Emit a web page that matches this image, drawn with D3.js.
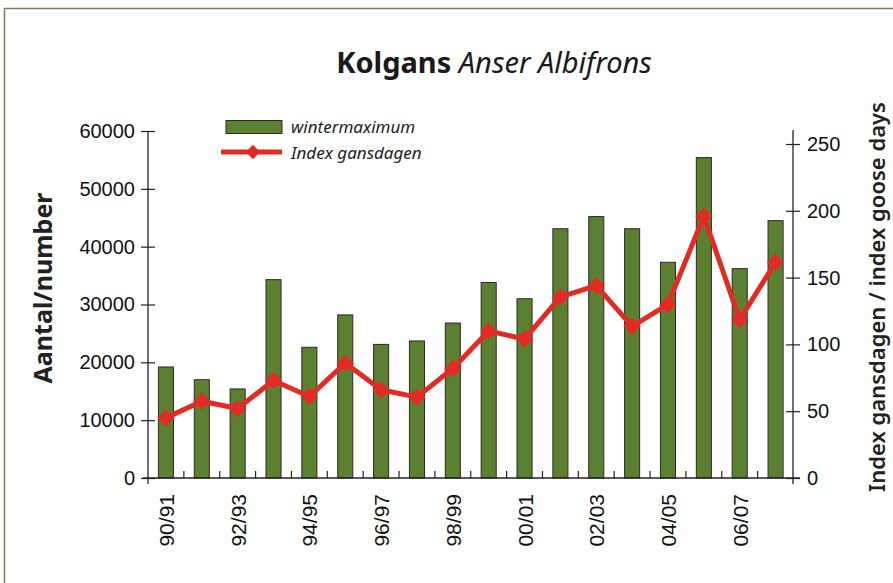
<!DOCTYPE html>
<html>
<head>
<meta charset="utf-8">
<script src="https://cdn.jsdelivr.net/npm/d3@7"></script>
<style>
  body { margin: 0; background: #fff; }
</style>
</head>
<body>
<svg id="chart" width="893" height="583"></svg>
<script>
const seasons = ["90/91", "91/92", "92/93", "93/94", "94/95", "95/96", "96/97", "97/98", "98/99",
                 "99/00", "00/01", "01/02", "02/03", "03/04", "04/05", "05/06", "06/07", "07/08"]
const wintermaximum = [19200, 17000, 15400, 34300, 22600, 28200, 23100, 23700, 26800,
                       33800, 31000, 43100, 45200, 43100, 37300, 55400, 36200, 44500]
const indexGansdagen = [45, 57.5, 52, 73, 61, 86, 66, 60.5, 82,
                        110, 104, 135.5, 144, 113.5, 130, 196, 118.5, 161.5]
const leftTicks = [0, 10000, 20000, 30000, 40000, 50000, 60000]
const rightTicks = [0, 50, 100, 150, 200, 250]
const labelled = ["90/91", "92/93", "94/95", "96/97", "98/99", "00/01", "02/03", "04/05", "06/07"]

const width = 893, height = 583
const margin = ({top: 131, right: 100, bottom: 105, left: 148})
const green = "#5b8031", red = "#e32b26"
const font = "'Liberation Sans', Arial, sans-serif"
const font2 = "'Noto Sans', 'Open Sans', sans-serif"

const svg = d3.select("#chart")

// frame
svg.append("rect")
    .attr("x", 4.5).attr("y", 8.5)
    .attr("width", width + 10).attr("height", height + 10)
    .attr("fill", "none").attr("stroke", "#8c7658").attr("stroke-width", 1.5)

const x = d3.scaleBand()
    .domain(seasons)
    .range([margin.left, width - margin.right + 0.5])
    .paddingInner(0.58)
    .paddingOuter(0.29)

const y = d3.scaleLinear()
    .domain([0, 60000])
    .range([height - margin.bottom, margin.top])

const y2 = d3.scaleLinear()
    .domain([0, 250])
    .range([height - margin.bottom, height - margin.bottom - 334])

const cx = d => x(d) + x.bandwidth() / 2

// bars
svg.append("g")
    .selectAll("rect")
    .data(seasons)
    .join("rect")
    .attr("x", d => x(d))
    .attr("y", (d, i) => y(wintermaximum[i]))
    .attr("width", x.bandwidth())
    .attr("height", (d, i) => y(0) - y(wintermaximum[i]))
    .attr("fill", green)
    .attr("stroke", "#2b2b22")
    .attr("stroke-width", 1)

// axes
const axisColor = "#222"
const xAxis = g => g
    .attr("transform", `translate(0,${y(0)})`)
    .call(d3.axisBottom(x).tickValues([]).tickSizeOuter(0))
    .call(g => g.select(".domain").attr("d", `M${margin.left - 5},0H${width - margin.right + 7}`)
        .attr("stroke", axisColor).attr("stroke-width", 1.3))

svg.append("g").call(xAxis)

// x ticks between bands, drawn upward
const step = x.step()
const bounds = d3.range(seasons.length + 1).map(i => margin.left + i * step)
svg.append("g")
    .selectAll("line")
    .data(bounds.slice(1, -1))
    .join("line")
    .attr("x1", d => d).attr("x2", d => d)
    .attr("y1", y(0) - 7).attr("y2", y(0))
    .attr("stroke", axisColor).attr("stroke-width", 1.2)

svg.append("g")
    .attr("font-family", font)
    .attr("font-size", 21)
    .attr("fill", "#111")
    .selectAll("text")
    .data(labelled)
    .join("text")
    .attr("transform", d => `translate(${cx(d) + 8},${y(0) + 16}) rotate(-90)`)
    .attr("text-anchor", "end")
    .text(d => d)

const yAxis = g => g
    .attr("transform", `translate(${margin.left},0)`)
    .call(d3.axisLeft(y).tickValues(leftTicks).tickSize(7).tickPadding(6).tickFormat(d3.format("d")))
    .call(g => g.select(".domain").attr("d", `M0,${margin.top}V${y(0) + 6}`)
        .attr("stroke", axisColor).attr("stroke-width", 1.3))
    .call(g => g.selectAll(".tick line").attr("x1", 7).attr("stroke", axisColor).attr("stroke-width", 1.2))
    .call(g => g.selectAll(".tick text").attr("font-size", 20).attr("fill", "#111"))
    .attr("font-family", font)

svg.append("g").call(yAxis)

const y2Axis = g => g
    .attr("transform", `translate(${width - margin.right},0)`)
    .call(d3.axisRight(y2).tickValues(rightTicks).tickSize(7).tickPadding(7))
    .call(g => g.select(".domain").attr("d", `M0,${margin.top - 1}V${y(0) + 6}`)
        .attr("stroke", axisColor).attr("stroke-width", 1.3))
    .call(g => g.selectAll(".tick line").attr("x1", -7).attr("stroke", axisColor).attr("stroke-width", 1.2))
    .call(g => g.selectAll(".tick text").attr("font-size", 20).attr("fill", "#111"))
    .attr("font-family", font)

svg.append("g").call(y2Axis)

// line
const line = d3.line()
    .x((d, i) => cx(seasons[i]))
    .y(d => y2(d))

svg.append("path")
    .datum(indexGansdagen)
    .attr("d", line)
    .attr("fill", "none")
    .attr("stroke", red)
    .attr("stroke-width", 5)
    .attr("stroke-linejoin", "round")

const diamond = d3.symbol().type(d3.symbolDiamond2).size(190)
svg.append("g")
    .selectAll("path")
    .data(indexGansdagen)
    .join("path")
    .attr("transform", (d, i) => `translate(${cx(seasons[i])},${y2(d)})`)
    .attr("d", diamond)
    .attr("fill", red)

// title
const title = svg.append("text")
    .attr("x", 494).attr("y", 73)
    .attr("text-anchor", "middle")
    .attr("font-family", font2)
    .attr("font-size", 29)
    .attr("fill", "#1a1a1a")
title.append("tspan").attr("font-weight", "bold").text("Kolgans ")
title.append("tspan").attr("font-style", "italic").text("Anser Albifrons")

// axis titles
svg.append("text")
    .attr("transform", `translate(52,288) rotate(-90)`)
    .attr("text-anchor", "middle")
    .attr("font-family", font2)
    .attr("font-weight", "bold")
    .attr("font-size", 25)
    .attr("fill", "#222")
    .text("Aantal/number")

svg.append("text")
    .attr("transform", `translate(885,297) rotate(-90)`)
    .attr("text-anchor", "middle")
    .attr("font-family", font2)
    .attr("font-weight", 600)
    .attr("font-size", 22)
    .attr("fill", "#222")
    .text("Index gansdagen / index goose days")

// legend
const legend = svg.append("g").attr("font-family", font2).attr("font-style", "italic").attr("font-size", 17).attr("fill", "#222")
legend.append("rect")
    .attr("x", 226).attr("y", 120.5).attr("width", 56).attr("height", 13)
    .attr("fill", green).attr("stroke", "#2b2b22")
legend.append("text").attr("x", 291).attr("y", 133).text("wintermaximum")
legend.append("line")
    .attr("x1", 221).attr("x2", 282).attr("y1", 152).attr("y2", 152)
    .attr("stroke", red).attr("stroke-width", 5)
legend.append("path")
    .attr("transform", "translate(253,152)")
    .attr("d", d3.symbol().type(d3.symbolDiamond2).size(130))
    .attr("fill", red)
legend.append("text").attr("x", 291).attr("y", 159).text("Index gansdagen")
</script>
</body>
</html>
